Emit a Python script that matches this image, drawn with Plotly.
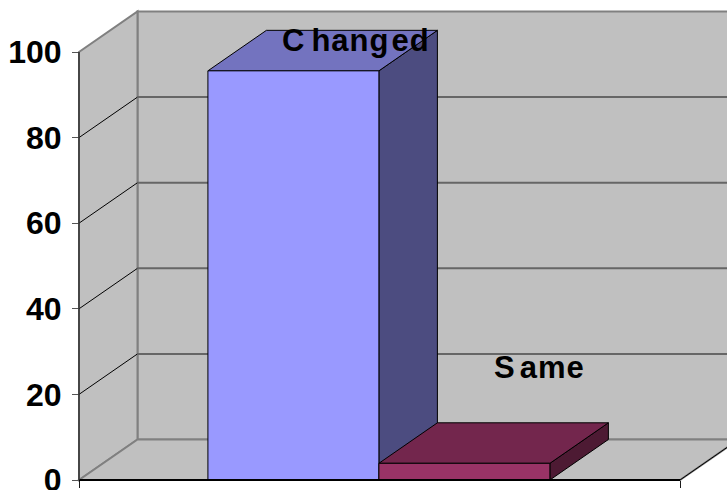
import plotly.graph_objects as go

# Survey result: one category, two series
series_names = ["Changed", "Same"]
series_values = [95.6, 3.9]
front_colors = ["#9999FF", "#993366"]
top_colors = ["#7373BF", "#73264D"]
side_colors = ["#4C4C80", "#4D1A33"]
y_ticks = [0, 20, 40, 60, 80, 100]

WIDTH, HEIGHT = 727, 490
PX_X = 601.0          # pixels per unit along the category axis
PX_Y = 4.28           # pixels per percentage point
ORIGIN_X, ORIGIN_Y = 79, 480
DX = 58.5 / PX_X      # oblique depth of the box
DY = 40.5 / PX_Y
BAR_GAP = 0.431
CATEGORY = 0.499

x_range = [-ORIGIN_X / PX_X, (WIDTH - ORIGIN_X) / PX_X]
y_range = [(ORIGIN_Y - HEIGHT) / PX_Y, ORIGIN_Y / PX_Y]
bar_w = (1 - BAR_GAP) / 2
WALL = "#C0C0C0"
EDGE = "#808080"


def poly(points, fill, line="#000000", width=1):
    path = "M" + " L".join(f"{x},{y}" for x, y in points) + " Z"
    return dict(type="path", path=path, xref="x", yref="y", layer="below",
                fillcolor=fill, line=dict(color=line, width=width))


def seg(x0, y0, x1, y1, color, width, layer="below"):
    return dict(type="line", x0=x0, y0=y0, x1=x1, y1=y1, xref="x", yref="y",
                layer=layer, line=dict(color=color, width=width))


def spaced(pieces):
    # Uneven tracking per run of letters
    return "".join(f'<span style="letter-spacing:{sp}px">{txt}</span>' for txt, sp in pieces)


top = y_ticks[-1]
shapes = [
    poly([(DX, DY), (1 + DX, DY), (1 + DX, top + DY), (DX, top + DY)], WALL, EDGE, 2),
    poly([(0, 0), (DX, DY), (DX, top + DY), (0, top)], WALL, EDGE, 2),
    poly([(0, 0), (DX, DY), (1 + DX, DY), (1, 0)], WALL, EDGE, 2),
]
for t in y_ticks[1:-1]:
    shapes.append(seg(0, t, DX, t + DY, "#000000", 1))
    shapes.append(seg(DX, t + DY, 1 + DX, t + DY, "#666666", 2))
shapes.append(seg(1, 0, 1 + DX, DY, "#000000", 1))

# Oblique faces of each box, back to front; the fronts come from the bar traces
for i, v in enumerate(series_values):
    left = CATEGORY - bar_w + i * bar_w
    right = left + bar_w
    shapes.append(poly([(right, 0), (right + DX, DY), (right + DX, v + DY), (right, v)],
                       side_colors[i]))
    shapes.append(poly([(left, v), (left + DX, v + DY), (right + DX, v + DY), (right, v)],
                       top_colors[i]))

# Axis lines
shapes.append(seg(0, 0, 1, 0, "#000000", 2, "above"))
shapes.append(seg(0, 0, 0, top, "#333333", 1.5, "above"))

fig = go.Figure()
for name, value, color in zip(series_names, series_values, front_colors):
    fig.add_trace(go.Bar(x=[CATEGORY], y=[value], name=name,
                         marker=dict(color=color, line=dict(color="#000000", width=1))))

label_style = dict(family="Liberation Sans, Arial, sans-serif", size=31, color="#000000", weight="bold")
tick_style = dict(family="Liberation Sans, Arial, sans-serif", size=32, color="#000000", weight="bold")
label_pos = [(0.461, 102.6), (0.767, 26.2)]
label_runs = [
    [("C", 7), ("han", 1), ("g", 3), ("ed", 1)],
    [("S", 5), ("ame", 1)],
]
annotations = [
    dict(x=x, y=y, xref="x", yref="y", showarrow=False, font=label_style, text=spaced(runs))
    for (x, y), runs in zip(label_pos, label_runs)
]

fig.update_layout(
    width=WIDTH, height=HEIGHT,
    margin=dict(l=0, r=0, t=0, b=0),
    paper_bgcolor="#FFFFFF", plot_bgcolor="#FFFFFF",
    barmode="group", bargap=BAR_GAP, bargroupgap=0,
    showlegend=False, shapes=shapes, annotations=annotations,
    xaxis=dict(range=x_range, domain=[0, 1], anchor="free",
               position=(HEIGHT - ORIGIN_Y) / HEIGHT, automargin=False,
               tickvals=[0, 1], ticktext=["", ""], ticks="outside", ticklen=7,
               tickcolor="#1A1A1A", tickwidth=1, showgrid=False, showline=False, zeroline=False),
    yaxis=dict(range=y_range, domain=[0, 1], anchor="free",
               position=ORIGIN_X / WIDTH, automargin=False,
               tickvals=y_ticks, ticks="outside", ticklen=7, tickcolor="#555555", tickwidth=1,
               tickfont=tick_style, ticklabeloverflow="allow", ticklabelstandoff=4,
               showgrid=False, showline=False, zeroline=False),
)

fig.write_html("out.html")
